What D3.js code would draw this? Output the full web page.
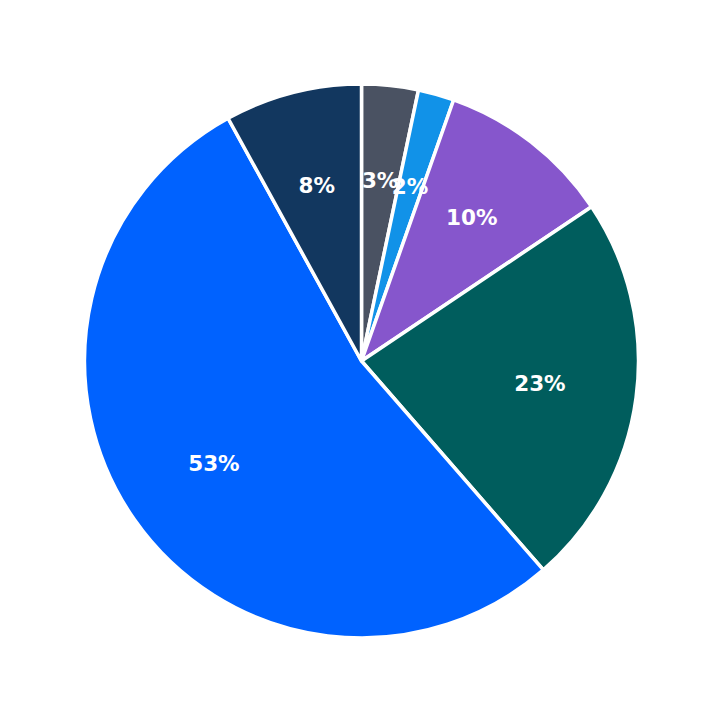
<!DOCTYPE html>
<html>
<head>
<meta charset="utf-8">
<script src="https://cdn.jsdelivr.net/npm/d3@7"></script>
<style>
html,body{margin:0;padding:0;background:#fff;}
</style>
</head>
<body>
<div id="chart"></div>
<script>
const categories = ["A", "B", "C", "D", "E", "F"];
const values = [3.3, 2.1, 10.2, 23.0, 53.4, 8.0];
const colors = ["#4a5262", "#1192e8", "#8656cc", "#005d5d", "#0062ff", "#12375f"];

const W = 723, H = 723;
const cx = 361.5, cy = 361, R = 277, labelR = 180;

const svg = d3.select("#chart").append("svg")
  .attr("width", W).attr("height", H);

const data = categories.map((c, i) => ({cat: c, value: values[i], color: colors[i]}));
const total = d3.sum(values);

const pie = d3.pie().value(d => d.value).sort(null);
const arc = d3.arc().innerRadius(0).outerRadius(R);
const labelArc = d3.arc().innerRadius(labelR).outerRadius(labelR);

const g = svg.append("g").attr("transform", `translate(${cx},${cy})`);
const arcs = pie(data);

g.selectAll("path").data(arcs).enter().append("path")
  .attr("d", arc)
  .attr("fill", d => d.data.color)
  .attr("stroke", "#fff")
  .attr("stroke-width", 3.5)
  .attr("stroke-linejoin", "round");

g.selectAll("text").data(arcs).enter().append("text")
  .attr("transform", d => `translate(${labelArc.centroid(d)})`)
  .attr("text-anchor", "middle")
  .attr("dominant-baseline", "central")
  .attr("fill", "#fff")
  .attr("font-family", "DejaVu Sans")
  .attr("font-weight", "bold")
  .attr("font-size", 21.5)
  .attr("dy", -1)
  .text(d => Math.round(d.data.value / total * 100) + "%");
</script>
</body>
</html>
